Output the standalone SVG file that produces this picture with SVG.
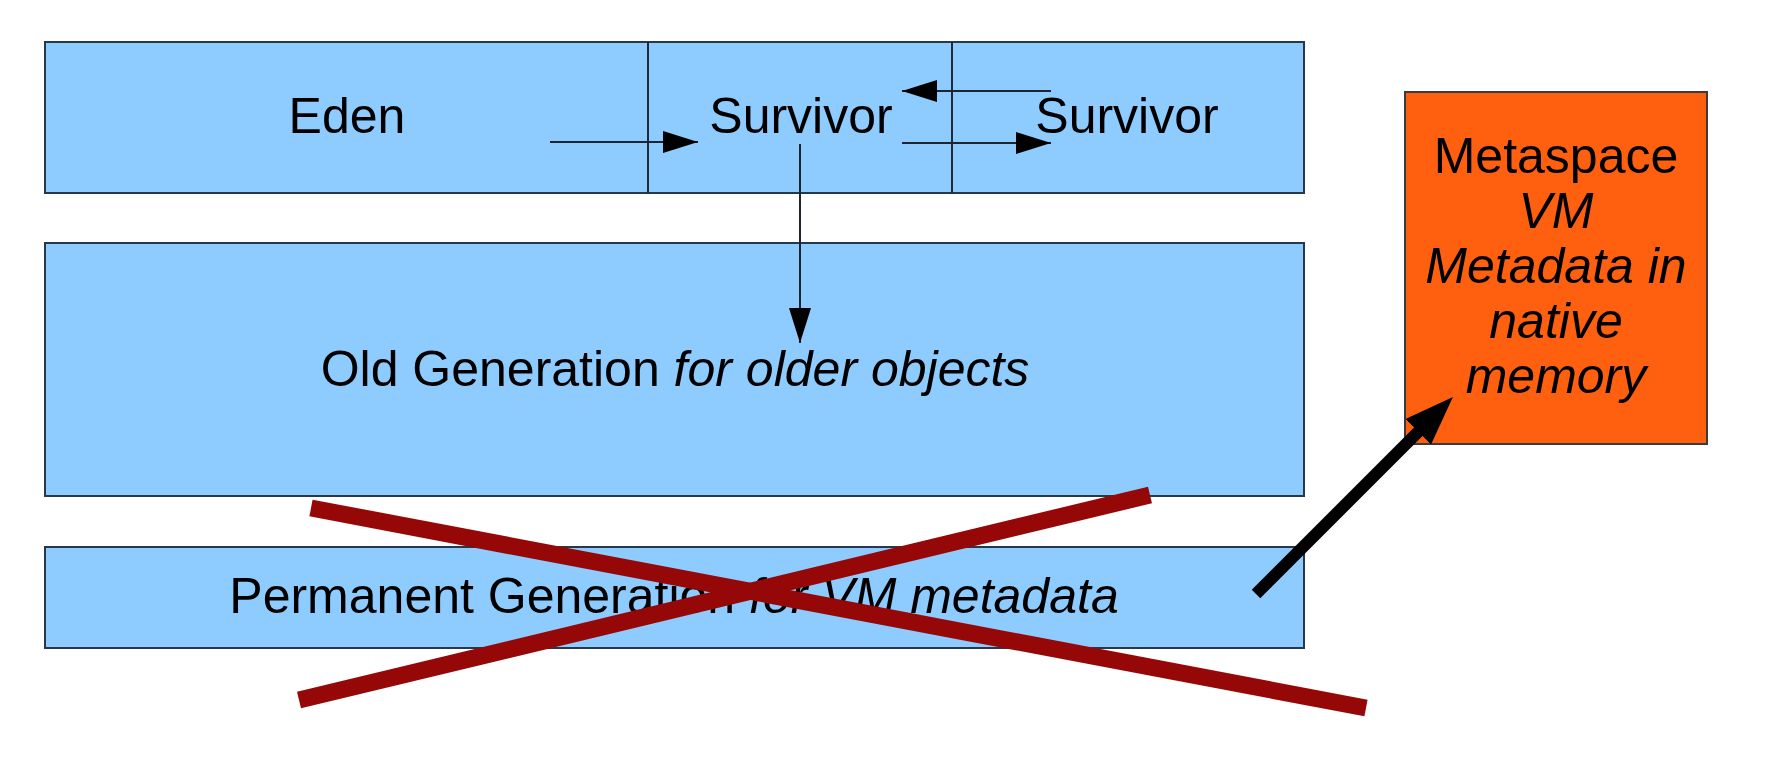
<svg xmlns="http://www.w3.org/2000/svg" width="1782" height="780" viewBox="0 0 1782 780">
<style>
.box{fill:#8ecbfe;stroke:#26384a;stroke-width:2}
.meta{fill:#ff6010;stroke:#3a3a3a;stroke-width:2}
.div{stroke:#1e2a38;stroke-width:2;fill:none}
.t{font-family:"Liberation Sans",Arial,sans-serif;font-size:50px;fill:#000;text-anchor:middle}
.i{font-style:italic}
.thin{stroke:#1e2530;stroke-width:2;fill:none}
.thick{stroke:#000;stroke-width:12;fill:none}
.cross{stroke:#960808;stroke-width:17;fill:none}
</style>
<defs>
<marker id="ah" markerUnits="userSpaceOnUse" markerWidth="36" markerHeight="24" refX="35" refY="11" orient="auto">
<path d="M0,0 L35,11 L0,22 z" fill="#000"/>
</marker>
<marker id="bh" markerUnits="userSpaceOnUse" markerWidth="50" markerHeight="38" refX="1" refY="18" orient="auto">
<path d="M0,0 L49,18 L0,36 z" fill="#000"/>
</marker>
</defs>
<rect width="1782" height="780" fill="#fff"/>
<g id="young">
<rect class="box" x="45" y="42" width="1259" height="151"/>
<line class="div" x1="648" y1="42" x2="648" y2="193"/>
<line class="div" x1="952" y1="42" x2="952" y2="193"/>
</g>
<g id="eden"><text class="t" x="347" y="133">Eden</text></g>
<g id="survivor1"><text class="t" x="801" y="133">Survivor</text></g>
<g id="survivor2"><text class="t" x="1127" y="133">Survivor</text></g>
<g id="old">
<rect class="box" x="45" y="243" width="1259" height="253"/>
<text class="t" x="675" y="386">Old Generation <tspan class="i">for older objects</tspan></text>
</g>
<g id="perm">
<rect class="box" x="45" y="547" width="1259" height="101"/>
<text class="t" x="674" y="613">Permanent Generation <tspan class="i">for VM metadata</tspan></text>
</g>
<g id="metaspace">
<rect class="meta" x="1405" y="92" width="302" height="352"/>
<text class="t" x="1556" y="173">Metaspace</text>
<text class="t i" x="1556" y="228">VM</text>
<text class="t i" x="1556" y="283">Metadata in</text>
<text class="t i" x="1556" y="338">native</text>
<text class="t i" x="1556" y="393">memory</text>
</g>
<g id="connectors">
<path class="thin" d="M550,142 L698,142" marker-end="url(#ah)"/>
<path class="thin" d="M902,143 L1051,143" marker-end="url(#ah)"/>
<path class="thin" d="M1051,91 L902,91" marker-end="url(#ah)"/>
<path class="thin" d="M800,144 L800,343" marker-end="url(#ah)"/>
<path class="thick" d="M1256,594 L1419,431" marker-end="url(#bh)"/>
</g>
<g id="cross">
<line class="cross" x1="311" y1="508" x2="1366" y2="708"/>
<line class="cross" x1="299" y1="700" x2="1150" y2="495"/>
</g>
</svg>
